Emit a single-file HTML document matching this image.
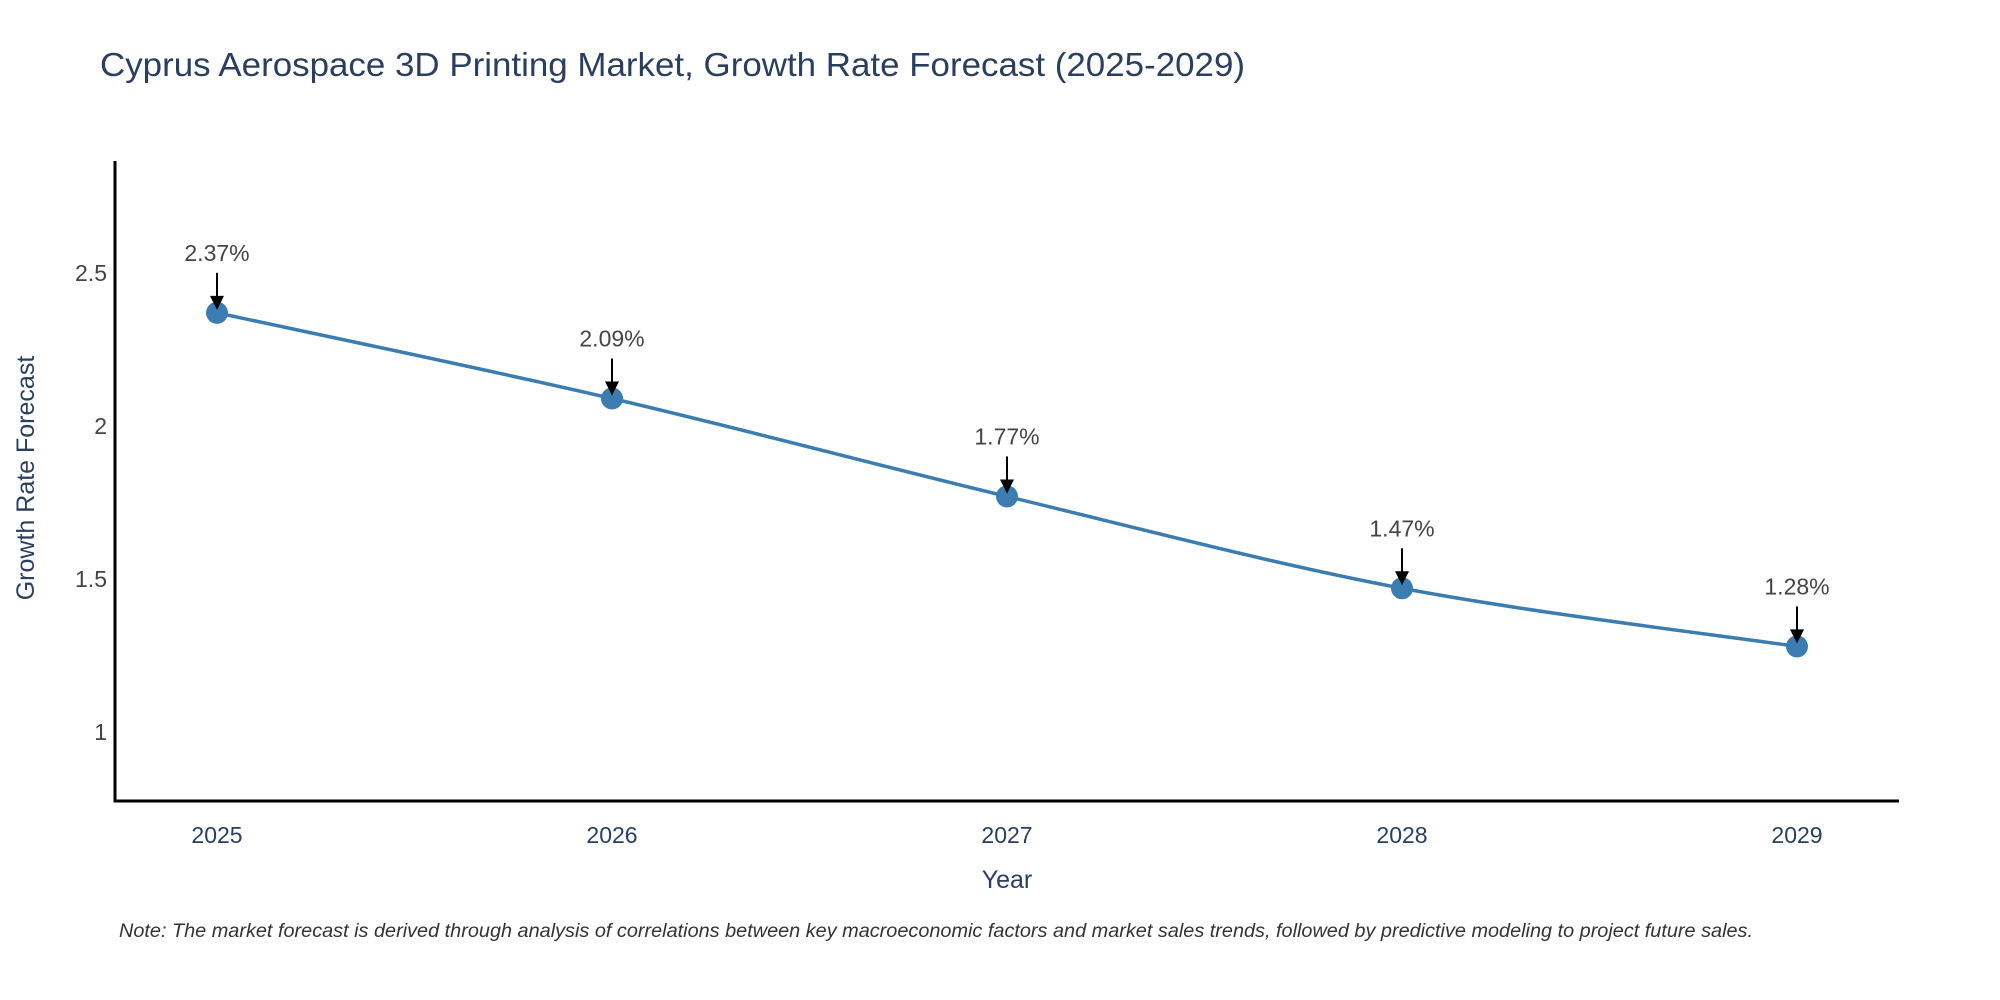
<!DOCTYPE html>
<html><head><meta charset="utf-8"><style>
html,body{margin:0;padding:0;background:#fff;}
svg{display:block;font-family:"Liberation Sans",sans-serif;}
</style></head><body>
<svg id="chart" width="2000" height="1000" viewBox="0 0 2000 1000">
<text x="100" y="76" font-size="33" fill="#2a3f5f" textLength="1145" lengthAdjust="spacingAndGlyphs">Cyprus Aerospace 3D Printing Market, Growth Rate Forecast (2025-2029)</text>
<g id="axes"></g>
<g id="series"></g>
<text x="1007" y="888" font-size="25" fill="#2a3f5f" text-anchor="middle">Year</text>
<text transform="translate(34,478) rotate(-90)" font-size="25" fill="#2a3f5f" text-anchor="middle">Growth Rate Forecast</text>
<text x="119" y="937" font-size="19" font-style="italic" fill="#333" textLength="1634" lengthAdjust="spacingAndGlyphs">Note: The market forecast is derived through analysis of correlations between key macroeconomic factors and market sales trends, followed by predictive modeling to project future sales.</text>
</svg>
<script>
const categories = ["2025","2026","2027","2028","2029"];
const values = [2.37, 2.09, 1.77, 1.47, 1.28];
const labels = ["2.37%","2.09%","1.77%","1.47%","1.28%"];
const yTicks = [1, 1.5, 2, 2.5];
const yTickLabels = ["1","1.5","2","2.5"];

const NS="http://www.w3.org/2000/svg";
const X0=115, X1=1899, Y0=161, Y1=801;
const yMin=0.775, yMax=2.866;
const xFirst=217, xLast=1797;
function xs(i){return xFirst+(xLast-xFirst)*i/(categories.length-1);}
function ys(v){return Y1-(v-yMin)/(yMax-yMin)*(Y1-Y0);}
function mk(tag,attrs,parent){const e=document.createElementNS(NS,tag);for(const k in attrs)e.setAttribute(k,attrs[k]);parent.appendChild(e);return e;}

const axes=document.getElementById('axes');
const yl=mk('line',{x1:X0,y1:Y0,x2:X0,y2:Y1+1.5,stroke:'#000','stroke-width':3},axes);


const xl=mk('line',{x1:X0-1.5,y1:Y1,x2:X1,y2:Y1,stroke:'#000','stroke-width':3},axes);


yTicks.forEach((t,i)=>{
  const tx=mk('text',{x:X0-8,y:ys(t)+8,'font-size':23,fill:'#444','text-anchor':'end'},axes);
  tx.textContent=yTickLabels[i];
  
  
});
categories.forEach((c,i)=>{
  const tx=mk('text',{x:xs(i),y:Y1+42,'font-size':23,fill:'#2a3f5f','text-anchor':'middle'},axes);
  tx.textContent=c;
  
  
});

const g=document.getElementById('series');
const pts=values.map((v,i)=>[xs(i),ys(v)]);
let d=`M${pts[0][0]},${pts[0][1]}`;
for(let i=0;i<pts.length-1;i++){
  const p0=pts[Math.max(0,i-1)],p1=pts[i],p2=pts[i+1],p3=pts[Math.min(pts.length-1,i+2)];
  const t=0.5/3;
  d+=` C${p1[0]+(p2[0]-p0[0])*t},${p1[1]+(p2[1]-p0[1])*t} ${p2[0]-(p3[0]-p1[0])*t},${p2[1]-(p3[1]-p1[1])*t} ${p2[0]},${p2[1]}`;
}
const line=mk('path',{d:d,fill:'none',stroke:'#3b7db0','stroke-width':3.5},g);


pts.forEach((p,i)=>{
  const c=mk('circle',{cx:p[0],cy:p[1],r:11,fill:'#3b7db0'},g);
  
  
  const a=mk('line',{x1:p[0],y1:p[1]-40,x2:p[0],y2:p[1]-14,stroke:'#000','stroke-width':2},g);
  
  
  const h=mk('polygon',{points:`${p[0]-7},${p[1]-17} ${p[0]+7},${p[1]-17} ${p[0]},${p[1]-3}`,fill:'#000'},g);
  
  
  const tx=mk('text',{x:p[0],y:p[1]-52,'font-size':23,fill:'#444','text-anchor':'middle'},g);
  tx.textContent=labels[i];
  
  
});
</script>
</body></html>
